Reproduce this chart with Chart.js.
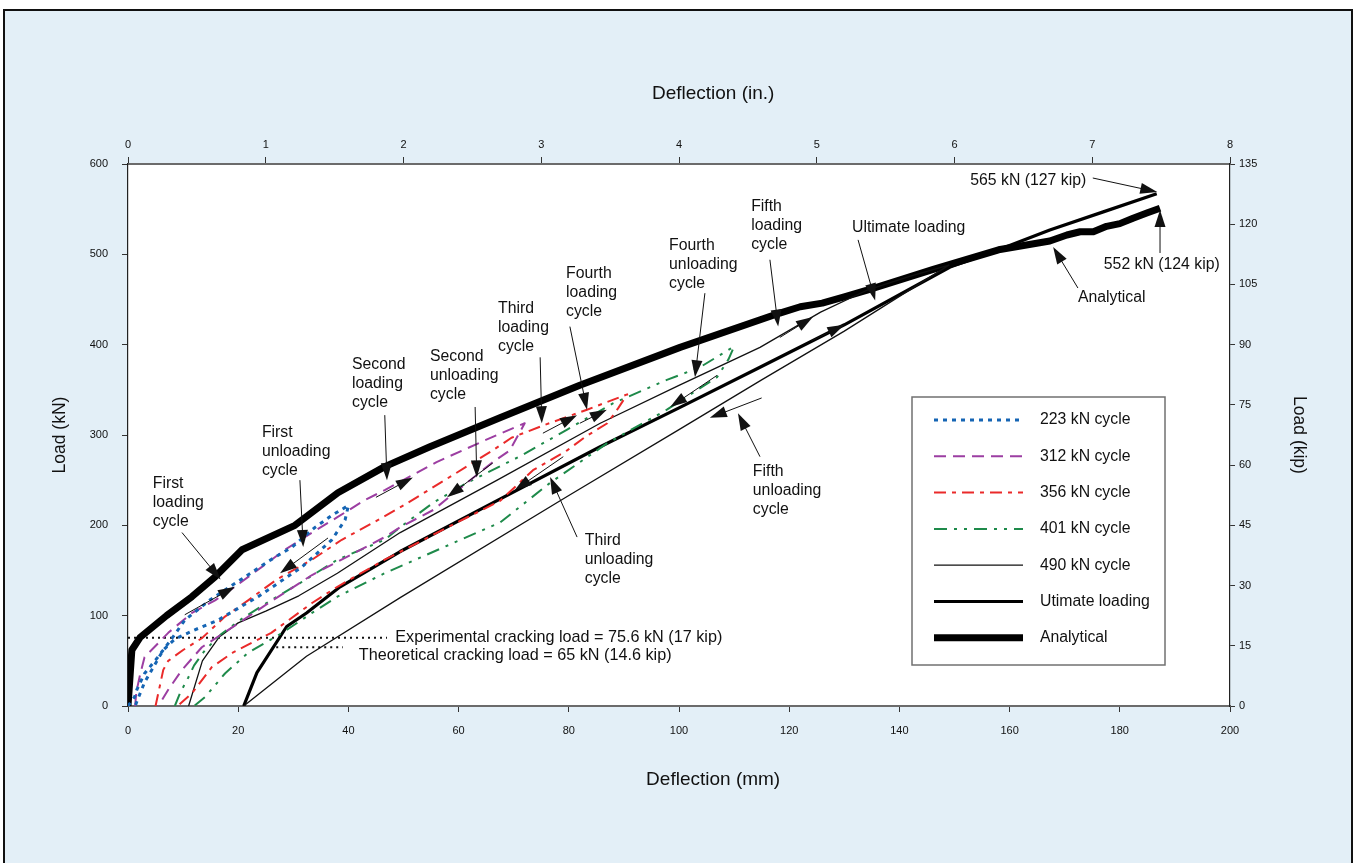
<!DOCTYPE html>
<html lang="en">
<head>
<meta charset="UTF-8">
<title>Load - deflection</title>
<script src="https://cdn.jsdelivr.net/npm/chart.js"></script>
<style>
  html, body { margin: 0; padding: 0; background: #fff; }
  #frame { position: absolute; left: 3px; top: 9px; width: 1346px; height: 900px; border: 2px solid #111; background: #e3eff7; }
  #wrap { position: absolute; left: 0; top: 0; width: 1356px; height: 863px; }
</style>
</head>
<body>
<div id="frame"></div>
<div id="wrap"><canvas id="myChart" width="1356" height="863"></canvas></div>
<script>
// tick values
const mmTicks = [0, 20, 40, 60, 80, 100, 120, 140, 160, 180, 200];
const inTicks = [0, 1, 2, 3, 4, 5, 6, 7, 8];
const kNTicks = [0, 100, 200, 300, 400, 500, 600];
const kipTicks = [0, 15, 30, 45, 60, 75, 90, 105, 120, 135];

// [deflection mm, load kN]
const c223Load = [[0,0],[1.2,10],[1.6,18],[3,36],[5.4,54],[8,75],[10.3,95],[15,118],[21,142],[25.4,160],[29.8,176],[34,198],[37,211],[40,222]];
const c223Unload = [[40,222],[39.4,206],[37,184],[31.6,154],[23.6,121],[16.3,95],[12,84],[8.5,74],[6.4,62],[4.5,42],[3,26],[2.2,14],[1.3,0]];
const c312Load = [[1.3,0],[1.5,15],[2.2,35],[3,54],[7.3,81],[11.6,103],[15.8,117],[19.4,132],[24.3,154],[28.5,173],[33.4,192],[38,209],[43,228],[46.6,239],[56,270],[66.2,298],[72,313]];
const c312Unload = [[72,313],[69.3,283],[66,269],[61.5,247],[55.4,217],[49.4,198],[46.6,187],[40,166],[33.4,145],[26,116],[18.9,87],[13.4,65],[9.8,40],[7.3,18],[5.5,0]];
const c356Load = [[5,0],[6.4,40],[7.3,50],[10,62],[13.4,75],[17.6,99],[21.8,117],[27,140],[33.4,162],[38.8,184],[45.4,206],[50,222],[58,252],[66.2,283],[69.6,297],[76,312],[83.3,328],[90.6,345]];
const c356Unload = [[90.6,345],[89,330],[87,313],[83,298],[79.7,283],[73.5,261],[67.5,227],[60,204],[53,182],[46.6,162],[38,132],[33.4,114],[26,81],[19,59],[15.2,43],[11.6,14],[9,0]];
const c401Load = [[8.5,0],[9.5,15],[10.9,31],[12,45],[14,62],[17,80],[21,98],[25.4,115],[32,139],[38,162],[46.6,184],[49.4,198],[55.4,225],[61.5,247],[71,276],[79.7,306],[88,335],[97.8,361],[103.8,375],[110,398]];
const c401Unload = [[110,398],[109,384],[106.9,364],[97.8,328],[87,291],[76.6,247],[67.5,203],[57,175],[46.6,147],[38,121],[33.4,103],[28,81],[21.8,59],[17.6,36],[14,10],[12,0]];
const c490Load = [[11,0],[13.5,50],[16.5,76],[20,92],[25,105],[31,122],[38,147],[49.4,192],[67,250],[85.7,313],[100,355],[114.7,397],[125.7,436],[134,460],[142,476],[149,488]];
const c490Unload = [[149,488],[130,415],[115,361],[100,306],[80,233],[49.4,120],[32.4,55],[21,0]];
const ultimate = [[21,0],[23.4,37],[28.8,88],[32.4,103],[38.5,132],[49.4,171],[67.5,229],[85.7,287],[100,330],[114.7,375],[130,422],[149.2,486],[158,505],[167.3,527],[177,547],[186.7,567]];
const analytical = [[0,0],[0.7,62],[2.2,76],[7,100],[11.6,121],[15.8,143],[20.7,173],[30.3,200],[38.1,236],[46.6,265],[54.8,287],[67.5,319],[82,355],[100.2,397],[118.3,435],[122,442],[126,446],[130,453],[134,460],[146,483],[158,505],[167.3,514.7],[170.4,521.4],[172.8,525],[175.2,525],[177.6,531],[180,534],[182.4,540],[184.9,545.7],[187.3,551]];

// cracking loads (kN) and the span of their dotted markers (mm)
const crackExp = 75.6, crackExpSpan = [0, 47];
const crackTheo = 65, crackTheoSpan = [26.9, 39];

// callouts, anchored in data units
const notes = [
  { text: ['First', 'loading', 'cycle'], at: [4.5, 245.7] },
  { text: ['First', 'unloading', 'cycle'], at: [24.3, 302.2] },
  { text: ['Second', 'loading', 'cycle'], at: [40.65, 377.5] },
  { text: ['Second', 'unloading', 'cycle'], at: [54.8, 386.3] },
  { text: ['Third', 'loading', 'cycle'], at: [67.15, 439.5] },
  { text: ['Fourth', 'loading', 'cycle'], at: [79.5, 478.2] },
  { text: ['Fourth', 'unloading', 'cycle'], at: [98.2, 509.2] },
  { text: ['Fifth', 'loading', 'cycle'], at: [113.1, 552.7] },
  { text: ['Ultimate loading'], at: [131.4, 529.2] },
  { text: ['Fifth', 'unloading', 'cycle'], at: [113.4, 259] },
  { text: ['Third', 'unloading', 'cycle'], at: [82.9, 182.7] },
  { text: ['565 kN (127 kip)'], at: [173.9, 581.2], align: 'right' },
  { text: ['552 kN (124 kip)'], at: [177.1, 488.2] },
  { text: ['Analytical'], at: [172.4, 451.7] },
  { text: ['Experimental cracking load = 75.6 kN (17 kip)'], at: [48.5, 75.6], size: 16.2 },
  { text: ['Theoretical cracking load = 65 kN (14.6 kip)'], at: [41.9, 55.4], size: 16.2 }
];
// [from, to] arrows, data units
const pointers = [
  [[9.8,192],[16.8,140]], [[31.2,250],[31.8,176]], [[46.6,322],[47,250]], [[63,331],[63.3,253]],
  [[74.8,386],[75.1,313]], [[80.2,420],[83.3,328]], [[104.7,457],[102.9,364]], [[116.5,494],[118,420]],
  [[132.5,516],[135.6,449]], [[114.7,276],[110.7,324]], [[81.5,187],[76.6,253.5]],
  [[175.1,584.5],[186.8,569]], [[187.3,501.5],[187.3,549]], [[172.4,462.7],[167.9,508]],
  [[10.3,101],[19.4,132]], [[36.3,186],[27.6,147]], [[45,231],[51.7,253]], [[66.2,269],[57.9,231]],
  [[75.3,302],[81.5,322]], [[82,313],[86.9,328]], [[106.9,366],[98.4,331]], [[118.3,408],[124.3,430.6]],
  [[124,404],[130,422]], [[115,341],[105.6,319]], [[79,276],[70.2,239]]
];

const toXY = pts => pts.map(p => ({ x: p[0], y: p[1] }));
const fontFamily = "'Liberation Sans', Arial, Helvetica, sans-serif";
Chart.defaults.font.family = fontFamily;
Chart.defaults.color = '#111';

function series(label, pts, color, width, dash) {
  return { label: label, data: toXY(pts), borderColor: color, backgroundColor: color,
    borderWidth: width, borderDash: dash, pointRadius: 0, tension: 0, fill: false,
    borderJoinStyle: 'round', xAxisID: 'x', yAxisID: 'y' };
}

const datasets = [
  series('223 kN cycle', c223Load.concat(c223Unload), '#1565b4', 3, [4, 5]),
  series('312 kN cycle', c312Load.concat(c312Unload), '#9c3ea2', 2, [12, 7]),
  series('356 kN cycle', c356Load.concat(c356Unload), '#ea2a2a', 2, [12, 6, 4, 6]),
  series('401 kN cycle', c401Load.concat(c401Unload), '#1e8a4a', 2, [13, 7, 3, 7, 3, 7]),
  series('490 kN cycle', c490Load.concat(c490Unload), '#111', 1.3, []),
  series('Utimate loading', ultimate, '#000', 3.2, []),
  series('Analytical', analytical, '#000', 7, [])
];
const expLine = series('exp', [[crackExpSpan[0], crackExp], [crackExpSpan[1], crackExp]], '#111', 2, [2, 4]);
const theoLine = series('theo', [[crackTheoSpan[0], crackTheo], [crackTheoSpan[1], crackTheo]], '#111', 2, [2, 4]);
expLine.skipLegend = true; theoLine.skipLegend = true;
datasets.push(expLine, theoLine);

function tickList(list) { return s => { s.ticks = list.map(v => ({ value: v })); }; }

const plotBg = {
  id: 'plotBg',
  beforeDraw(chart) {
    const a = chart.chartArea, ctx = chart.ctx;
    ctx.save(); ctx.fillStyle = '#fff'; ctx.fillRect(a.left, a.top, a.right - a.left, a.bottom - a.top); ctx.restore();
  }
};

function drawArrow(ctx, x1, y1, x2, y2) {
  const ang = Math.atan2(y2 - y1, x2 - x1), L = 17, W = 5.5;
  ctx.beginPath(); ctx.moveTo(x1, y1);
  ctx.lineTo(x2 - Math.cos(ang) * L * 0.6, y2 - Math.sin(ang) * L * 0.6); ctx.stroke();
  ctx.beginPath(); ctx.moveTo(x2, y2);
  ctx.lineTo(x2 - L * Math.cos(ang) + W * Math.sin(ang), y2 - L * Math.sin(ang) - W * Math.cos(ang));
  ctx.lineTo(x2 - L * Math.cos(ang) - W * Math.sin(ang), y2 - L * Math.sin(ang) + W * Math.cos(ang));
  ctx.closePath(); ctx.fill();
}

// horizontal axis titles sit a little right of the plot centre in the original
const xTitles = {
  id: 'xTitles',
  afterDraw(chart) {
    const ctx = chart.ctx, a = chart.chartArea;
    const cx = a.left + (a.right - a.left) * 0.531;
    ctx.save();
    ctx.font = '19px ' + fontFamily; ctx.fillStyle = '#111';
    ctx.textAlign = 'center'; ctx.textBaseline = 'middle';
    ctx.fillText('Deflection (in.)', cx, 94);
    ctx.fillText('Deflection (mm)', cx, 780);
    ctx.restore();
  }
};

const callouts = {
  id: 'callouts',
  afterDatasetsDraw(chart) {
    const ctx = chart.ctx, xs = chart.scales.x, ys = chart.scales.y;
    ctx.save();
    ctx.fillStyle = '#111'; ctx.strokeStyle = '#111'; ctx.lineWidth = 1;
    pointers.forEach(p => {
      drawArrow(ctx, xs.getPixelForValue(p[0][0]), ys.getPixelForValue(p[0][1]),
        xs.getPixelForValue(p[1][0]), ys.getPixelForValue(p[1][1]));
    });
    ctx.textBaseline = 'middle';
    notes.forEach(n => {
      ctx.font = (n.size || 15.8) + 'px ' + fontFamily;
      ctx.textAlign = n.align || 'left';
      const x = xs.getPixelForValue(n.at[0]), y = ys.getPixelForValue(n.at[1]);
      n.text.forEach((t, i) => ctx.fillText(t, x, y + i * 19));
    });
    ctx.restore();
  }
};

const legendBox = {
  id: 'legendBox',
  afterDraw(chart) {
    const ctx = chart.ctx;
    const left = 912, top = 397, w = 253, h = 268;
    ctx.save();
    ctx.fillStyle = '#fff'; ctx.fillRect(left, top, w, h);
    ctx.strokeStyle = '#707070'; ctx.lineWidth = 1.5; ctx.strokeRect(left, top, w, h);
    ctx.font = '15.8px ' + fontFamily; ctx.textBaseline = 'middle'; ctx.textAlign = 'left';
    chart.data.datasets.filter(d => !d.skipLegend).forEach((d, i) => {
      const y = top + 23 + i * 36.3;
      ctx.strokeStyle = d.borderColor; ctx.lineWidth = d.borderWidth;
      ctx.setLineDash(d.borderDash || []);
      ctx.beginPath(); ctx.moveTo(left + 22, y); ctx.lineTo(left + 111, y); ctx.stroke();
      ctx.setLineDash([]);
      ctx.fillStyle = '#111'; ctx.fillText(d.label, left + 128, y);
    });
    ctx.restore();
  }
};

const tickFont = { size: 11 };
const ctx = document.getElementById('myChart').getContext('2d');
const myChart = new Chart(ctx, {
  type: 'line',
  data: { datasets: datasets },
  plugins: [plotBg, callouts, legendBox, xTitles],
  options: {
    responsive: false,
    animation: false,
    devicePixelRatio: 1,
    layout: { padding: 0 },
    plugins: { legend: { display: false }, tooltip: { enabled: false } },
    scales: {
      x: {
        type: 'linear', position: 'bottom', min: 0, max: 200,
        afterBuildTicks: tickList(mmTicks),
        ticks: { font: tickFont, padding: 12, color: '#111', autoSkip: false, maxRotation: 0 },
        grid: { drawOnChartArea: false, tickLength: 6, tickColor: '#333' },
        border: { display: true, color: '#6b6b6b', width: 2 },
        title: { display: false, text: 'Deflection (mm)' },
        afterFit: s => { s.height = 157; }
      },
      x2: {
        type: 'linear', position: 'top', min: 0, max: 8,
        afterBuildTicks: tickList(inTicks),
        ticks: { font: tickFont, padding: 5, color: '#111', autoSkip: false, maxRotation: 0 },
        grid: { drawOnChartArea: false, tickLength: 7, tickColor: '#333' },
        border: { display: true, color: '#6b6b6b', width: 2 },
        title: { display: false, text: 'Deflection (in.)' },
        afterFit: s => { s.height = 164; }
      },
      y: {
        type: 'linear', position: 'left', min: 0, max: 600,
        afterBuildTicks: tickList(kNTicks),
        ticks: { font: tickFont, padding: 14, color: '#111', autoSkip: false },
        grid: { drawOnChartArea: false, tickLength: 6, tickColor: '#333' },
        border: { display: true, color: '#222', width: 1.2 },
        title: { display: true, text: 'Load (kN)', font: { size: 17.5 }, color: '#111', padding: { top: 50, bottom: 0 } },
        afterFit: s => { s.width = 128; }
      },
      y2: {
        type: 'linear', position: 'right', min: 0, max: 135,
        afterBuildTicks: tickList(kipTicks),
        ticks: { font: tickFont, padding: 4, color: '#111', autoSkip: false },
        grid: { drawOnChartArea: false, tickLength: 5, tickColor: '#333' },
        border: { display: true, color: '#222', width: 1.2 },
        title: { display: true, text: 'Load (kip)', font: { size: 17.5 }, color: '#111', padding: { top: 47, bottom: 0 } },
        afterFit: s => { s.width = 126; }
      }
    }
  }
});
</script>
</body>
</html>
